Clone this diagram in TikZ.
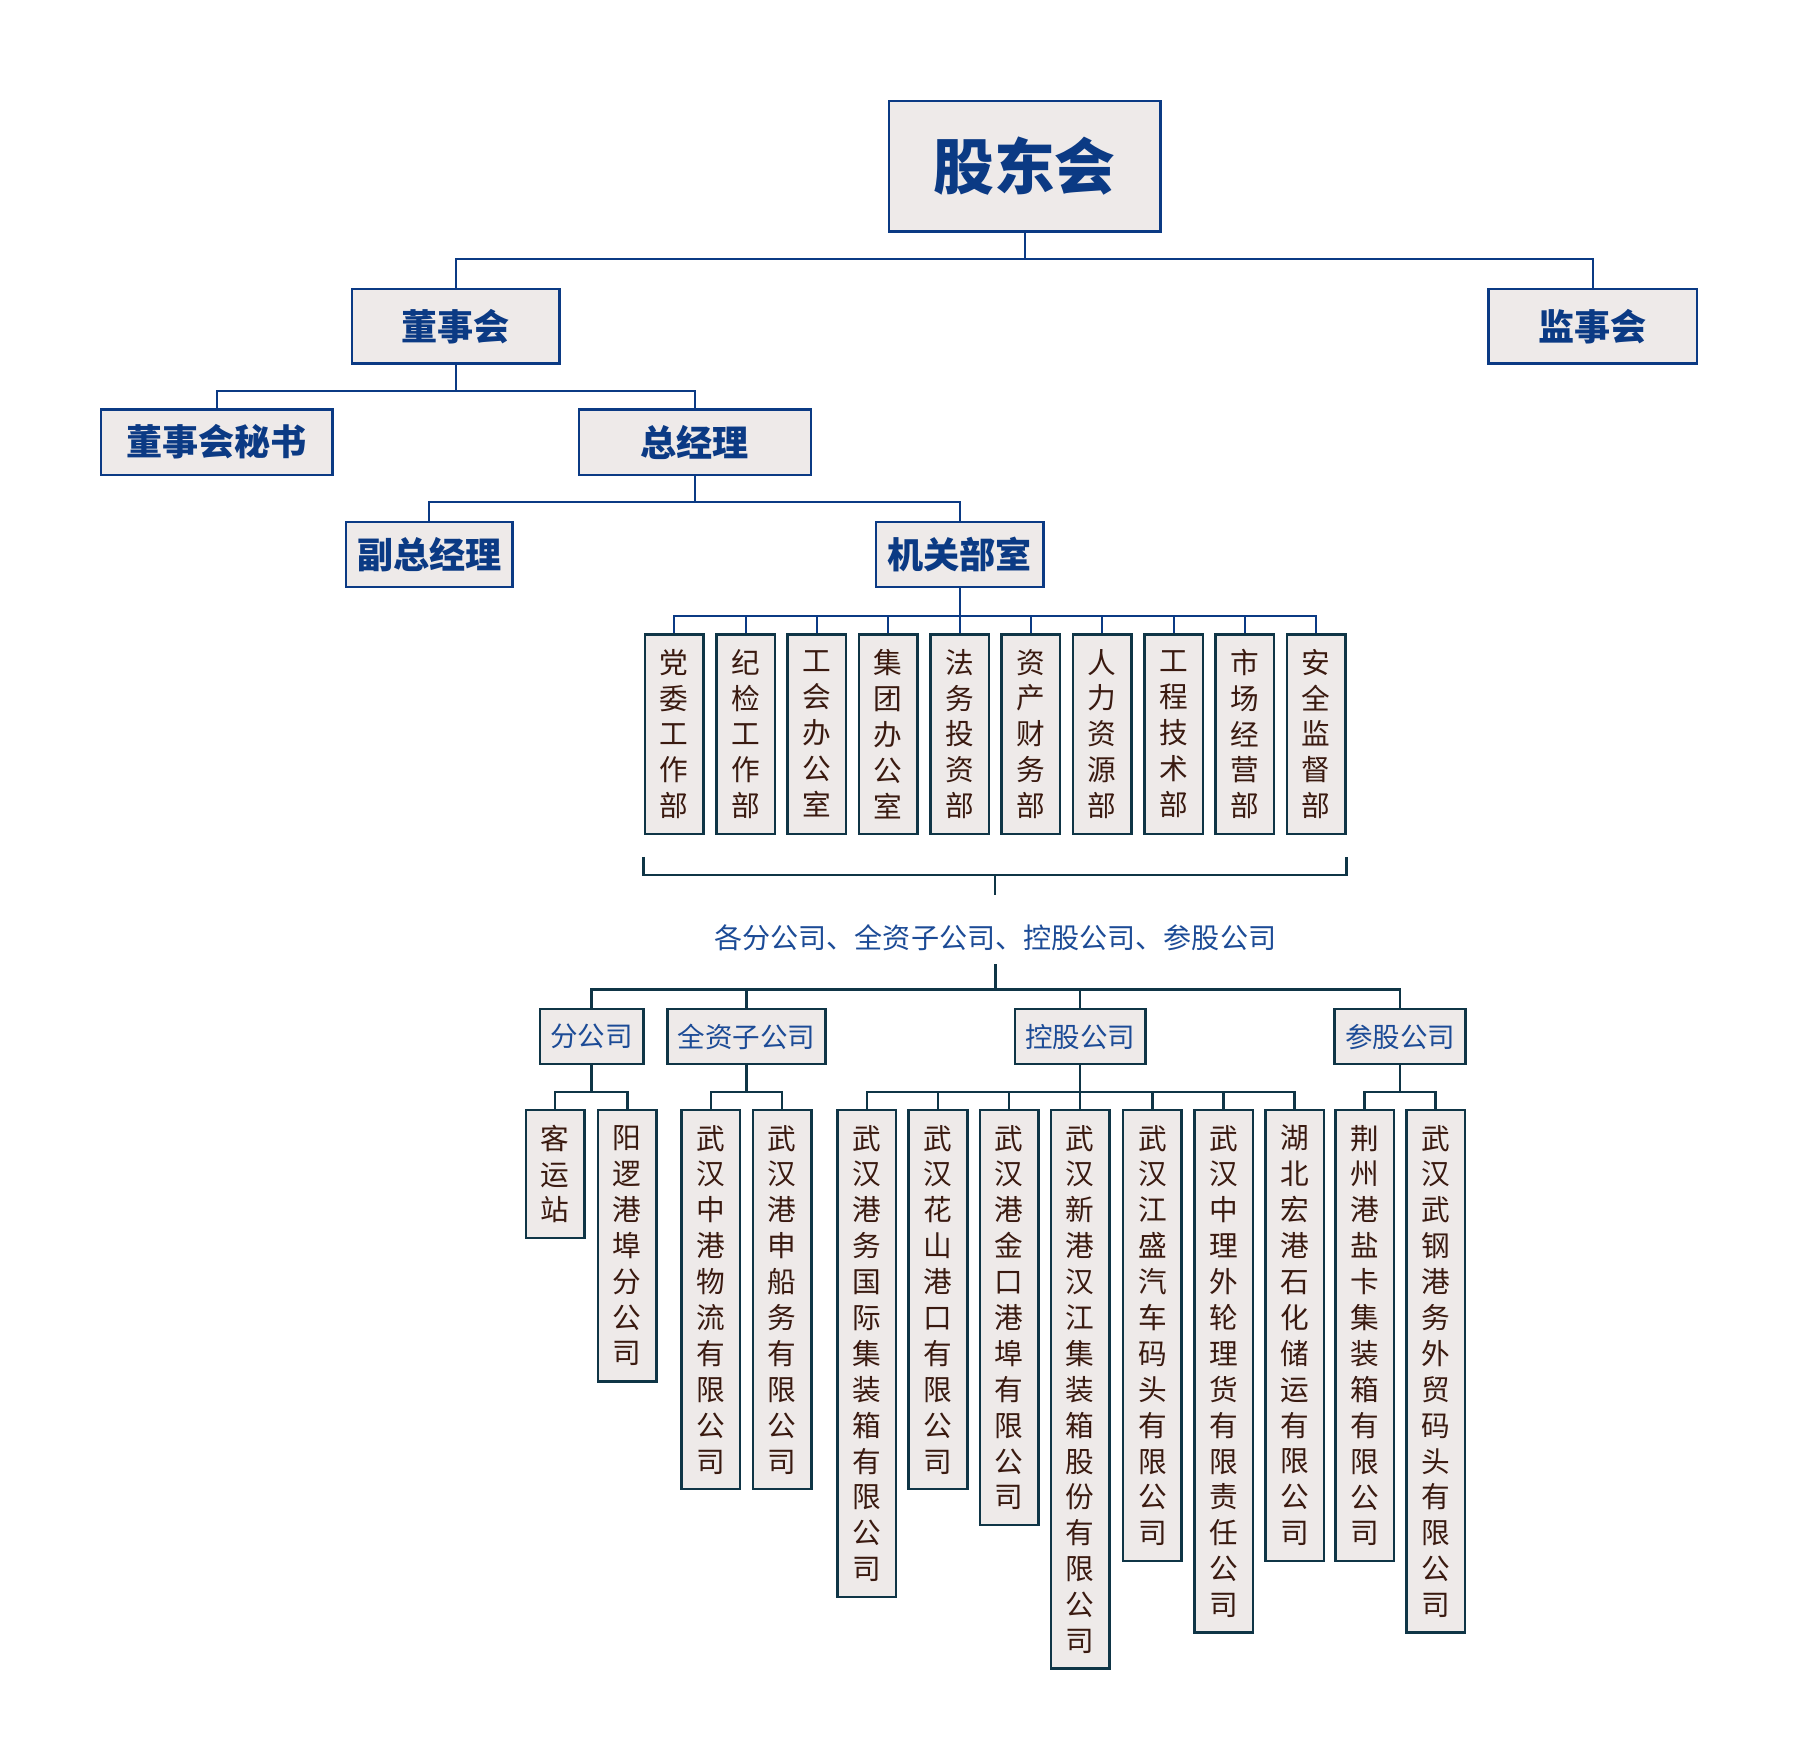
\documentclass[tikz,border=0pt]{standalone}
\usepackage{fontspec}
\newfontfamily\cjk{Noto Sans CJK SC}
\usetikzlibrary{calc}
\definecolor{cnavy}{HTML}{0B3A84}
\definecolor{cteal}{HTML}{0F3546}
\definecolor{cbrown}{HTML}{3A1A10}
\definecolor{cblue}{HTML}{1C4B96}
\definecolor{cfill}{HTML}{EEEAE9}
\tikzset{
  topbox/.style={draw=cnavy, line width=2pt, fill=cfill, inner sep=0pt, text=cnavy},
  vbox/.style={draw=cteal, line width=2.2pt, fill=cfill, inner sep=0pt, minimum width=51pt,
    minimum height={#1*31.3+17.5}, anchor=north, align=center, text=cbrown,
    font=\cjk\fontsize{25}{31.3}\selectfont},
  grpbox/.style={draw=cteal, line width=2.2pt, fill=cfill, inner sep=0pt, minimum height=48pt,
    text=cblue, font=\cjk\fontsize{24}{28}\selectfont},
  topline/.style={draw=cnavy, line width=1.8pt},
  lowline/.style={draw=cteal, line width=2.2pt}
}
\begin{document}
\begin{tikzpicture}[x=1pt,y=-1pt]
\useasboundingbox (0,0) rectangle (1568,1523);
% top level
\node[topbox, minimum width=237pt, minimum height=114pt, font=\cjk\bfseries\fontsize{53}{60}\selectfont] (gdh) at (893.5,145) {股东会};
\node[topbox, minimum width=181pt, minimum height=65pt, font=\cjk\bfseries\fontsize{31.5}{36}\selectfont] (dsh) at (397.5,284.5) {董事会};
\node[topbox, minimum width=182pt, minimum height=65pt, font=\cjk\bfseries\fontsize{31.5}{36}\selectfont] (jsh) at (1389,284.5) {监事会};
\node[topbox, minimum width=202pt, minimum height=57pt, font=\cjk\bfseries\fontsize{31.5}{36}\selectfont] (ms) at (189,385.5) {董事会秘书};
\node[topbox, minimum width=202pt, minimum height=57pt, font=\cjk\bfseries\fontsize{31.5}{36}\selectfont] (zjl) at (606,385.5) {总经理};
\node[topbox, minimum width=145pt, minimum height=57pt, font=\cjk\bfseries\fontsize{31.5}{36}\selectfont] (fzjl) at (374.5,483.5) {副总经理};
\node[topbox, minimum width=146pt, minimum height=57pt, font=\cjk\bfseries\fontsize{31.5}{36}\selectfont] (jg) at (837,483.5) {机关部室};
% buses top
\coordinate (b1) at ($(gdh.south)+(0,23)$);
\coordinate (b2) at ($(dsh.south)+(0,23)$);
\coordinate (b3) at ($(zjl.south)+(0,23)$);
\coordinate (b4) at ($(jg.south)+(0,24)$);
\draw[topline] (gdh.south) -- (b1);
\draw[topline] (b1) -| (dsh.north);
\draw[topline] (b1) -| (jsh.north);
\draw[topline] (dsh.south) -- (b2);
\draw[topline] (b2) -| (ms.north);
\draw[topline] (b2) -| (zjl.north);
\draw[topline] (zjl.south) -- (b3);
\draw[topline] (b3) -| (fzjl.north);
\draw[topline] (b3) -| (jg.north);
\draw[topline] (jg.south) -- (b4);
% departments
\node[vbox=5] (d1) at (588,552) {党\\委\\工\\作\\部};
\node[vbox=5] (d2) at (650.2,552) {纪\\检\\工\\作\\部};
\node[vbox=5] (d3) at (712.4,552) {工\\会\\办\\公\\室};
\node[vbox=5] (d4) at (774.6,552) {集\\团\\办\\公\\室};
\node[vbox=5] (d5) at (836.8,552) {法\\务\\投\\资\\部};
\node[vbox=5] (d6) at (899,552) {资\\产\\财\\务\\部};
\node[vbox=5] (d7) at (961.2,552) {人\\力\\资\\源\\部};
\node[vbox=5] (d8) at (1023.4,552) {工\\程\\技\\术\\部};
\node[vbox=5] (d9) at (1085.6,552) {市\\场\\经\\营\\部};
\node[vbox=5] (d10) at (1147.8,552) {安\\全\\监\\督\\部};
\foreach \d in {d1,d2,d3,d4,d5,d6,d7,d8,d9,d10}{
  \draw[topline] (b4) -| (\d.north);
}
% bracket
\coordinate (brL) at ($(d1.south west)+(0,19)$);
\coordinate (brR) at ($(d10.south east)+(0,19)$);
\coordinate (brM) at ($(brL)!.5!(brR)+(0,16)$);
\coordinate (brT) at ($(brM)+(0,17)$);
\draw[lowline] (brL) -- ++(0,16) -| (brR);
\draw[lowline] (brM) -- (brT);
\node[text=cblue, font=\cjk\fontsize{24.5}{28}\selectfont, inner sep=0pt] (lbl) at (868,818) {各分公司、全资子公司、控股公司、参股公司};
\coordinate (t2) at (868,841);
\coordinate (b5) at (868,863);
\draw[lowline, line width=2.8pt] (t2) -- (b5);
% groups
\node[grpbox, minimum width=90pt] (g1) at (516,904) {分公司};
\node[grpbox, minimum width=138pt] (g2) at (651,904) {全资子公司};
\node[grpbox, minimum width=114pt] (g3) at (942,904) {控股公司};
\node[grpbox, minimum width=114pt] (g4) at (1221,904) {参股公司};
\foreach \g in {g1,g2,g3,g4}{
  \draw[lowline] (b5) -| (\g.north);
}
% children
\node[vbox=3] (c1) at (484,967) {客\\运\\站};
\node[vbox=7] (c2) at (547,967) {阳\\逻\\港\\埠\\分\\公\\司};
\node[vbox=10] (c3) at (620,967) {武\\汉\\中\\港\\物\\流\\有\\限\\公\\司};
\node[vbox=10] (c4) at (682,967) {武\\汉\\港\\申\\船\\务\\有\\限\\公\\司};
\node[vbox=13] (c5) at (756,967) {武\\汉\\港\\务\\国\\际\\集\\装\\箱\\有\\限\\公\\司};
\node[vbox=10] (c6) at (818,967) {武\\汉\\花\\山\\港\\口\\有\\限\\公\\司};
\node[vbox=11] (c7) at (880,967) {武\\汉\\港\\金\\口\\港\\埠\\有\\限\\公\\司};
\node[vbox=15] (c8) at (942,967) {武\\汉\\新\\港\\汉\\江\\集\\装\\箱\\股\\份\\有\\限\\公\\司};
\node[vbox=12] (c9) at (1005,967) {武\\汉\\江\\盛\\汽\\车\\码\\头\\有\\限\\公\\司};
\node[vbox=14] (c10) at (1067,967) {武\\汉\\中\\理\\外\\轮\\理\\货\\有\\限\\责\\任\\公\\司};
\node[vbox=12] (c11) at (1129,967) {湖\\北\\宏\\港\\石\\化\\储\\运\\有\\限\\公\\司};
\node[vbox=12] (c12) at (1190,967) {荆\\州\\港\\盐\\卡\\集\\装\\箱\\有\\限\\公\\司};
\node[vbox=14] (c13) at (1252,967) {武\\汉\\武\\钢\\港\\务\\外\\贸\\码\\头\\有\\限\\公\\司};
% group buses
\coordinate (gb1) at ($(g1.south)+(0,23)$);
\coordinate (gb2) at ($(g2.south)+(0,23)$);
\coordinate (gb3) at ($(g3.south)+(0,23)$);
\coordinate (gb4) at ($(g4.south)+(0,23)$);
\draw[lowline] (g1.south) -- (gb1);
\draw[lowline] (g2.south) -- (gb2);
\draw[lowline] (g3.south) -- (gb3);
\draw[lowline] (g4.south) -- (gb4);
\foreach \c in {c1,c2}{\draw[lowline] (gb1) -| (\c.north);}
\foreach \c in {c3,c4}{\draw[lowline] (gb2) -| (\c.north);}
\foreach \c in {c5,c6,c7,c8,c9,c10,c11}{\draw[lowline] (gb3) -| (\c.north);}
\foreach \c in {c12,c13}{\draw[lowline] (gb4) -| (\c.north);}
\end{tikzpicture}
\end{document}
